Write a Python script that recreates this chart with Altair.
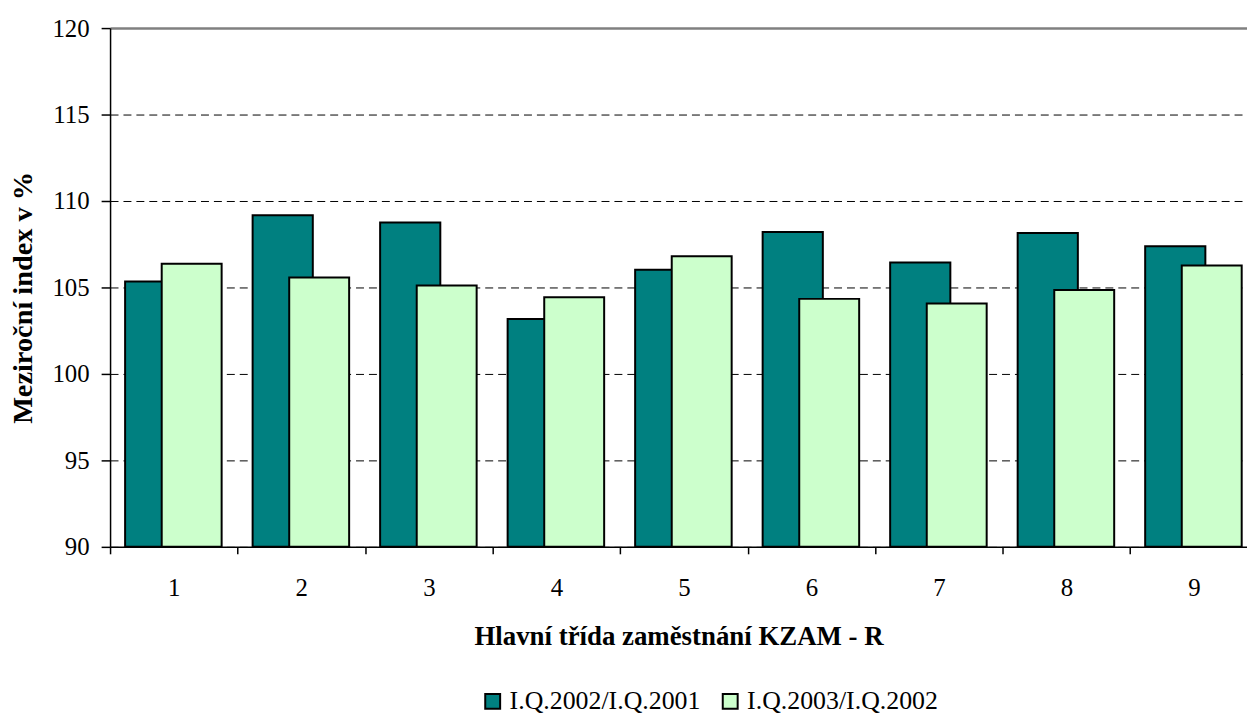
import altair as alt
import pandas as pd

# ---- data ----
categories = [1, 2, 3, 4, 5, 6, 7, 8, 9]
series_names = ["I.Q.2002/I.Q.2001", "I.Q.2003/I.Q.2002"]
index_2002 = [105.35, 109.18, 108.76, 103.17, 106.03, 108.21, 106.44, 108.15, 107.38]
index_2003 = [106.37, 105.57, 105.12, 104.43, 106.81, 104.34, 104.07, 104.85, 106.27]
y_ticks = [90, 95, 100, 105, 110, 115, 120]
x_boundaries = [0.5, 1.5, 2.5, 3.5, 4.5, 5.5, 6.5, 7.5, 8.5]
colors = ["#008080", "#CCFFCC"]

df = pd.DataFrame({
    "kat": categories + categories,
    "serie": [series_names[0]] * len(categories) + [series_names[1]] * len(categories),
    "hodnota": index_2002 + index_2003,
})

FONT = "'Times New Roman', 'Liberation Serif', Times, 'DejaVu Serif', serif"
W, H = 1144, 522
cat_px = 128.3

x_scale = alt.Scale(domain=[0.5, 0.5 + W / cat_px], nice=False, zero=False)
y_scale = alt.Scale(domain=[90, 120], nice=False, zero=False)

is_top = "datum.value === 120"

x_axis = alt.Axis(
    values=x_boundaries,
    labelExpr="format(datum.value + 0.5, 'd')",
    labelOffset=cat_px / 2,
    labelFlush=False,
    labelOverlap=False,
    labelFont=FONT, labelFontSize=25, labelColor="black", labelPadding=22,
    tickSize=7, tickColor="black", tickWidth=1.5,
    domainColor="black", domainWidth=1.5,
    grid=False,
    title="Hlavní třída zaměstnání KZAM - R",
    titleFont=FONT, titleFontSize=27, titleFontWeight="bold", titleColor="black",
    titleBaseline="alphabetic", titleY=98.7,
)

y_axis = alt.Axis(
    values=y_ticks,
    labelFont=FONT, labelFontSize=25, labelColor="black", labelPadding=12,
    tickSize=9, tickColor="black", tickWidth=1.5,
    domainColor="black", domainWidth=1.5,
    grid=True,
    gridColor={"condition": {"test": is_top, "value": "#808080"}, "value": "black"},
    gridDash={"condition": {"test": is_top, "value": []}, "value": [8, 5]},
    gridWidth={"condition": {"test": is_top, "value": 2.5}, "value": 1},
    title="Meziroční index v %",
    titleFont=FONT, titleFontSize=28.5, titleFontWeight="bold", titleColor="black",
    titleAngle=270, titleAlign="center", titleBaseline="alphabetic",
    titleX=-78.7, titleY=271,
)

color = alt.Color(
    "serie:N",
    scale=alt.Scale(domain=series_names, range=colors),
    legend=alt.Legend(
        title=None, orient="none", direction="horizontal",
        legendX=372, legendY=664.5, padding=0,
        symbolType="square", symbolSize=225,
        symbolStrokeColor="black", symbolStrokeWidth=2,
        labelFont=FONT, labelFontSize=26, labelColor="black",
        labelOffset=4, columnPadding=16, labelLimit=400,
    ),
)

base = alt.Chart(df)

dark = base.transform_filter(
    alt.datum.serie == series_names[0]
).transform_calculate(
    x0="datum.kat - 0.382", x1="datum.kat + 0.09"
).mark_bar(stroke="black", strokeWidth=2).encode(
    x=alt.X("x0:Q", scale=x_scale, axis=x_axis),
    x2="x1:Q",
    y=alt.Y("hodnota:Q", scale=y_scale, axis=y_axis),
    y2=alt.datum(90),
    color=color,
)

light = base.transform_filter(
    alt.datum.serie == series_names[1]
).transform_calculate(
    x0="datum.kat - 0.095", x1="datum.kat + 0.375"
).mark_bar(stroke="black", strokeWidth=2).encode(
    x=alt.X("x0:Q", scale=x_scale, axis=x_axis),
    x2="x1:Q",
    y=alt.Y("hodnota:Q", scale=y_scale, axis=y_axis),
    y2=alt.datum(90),
    color=color,
)

chart = alt.layer(dark, light).properties(
    width=W, height=H,
    autosize=alt.AutoSizeParams(type="none"),
    padding={"left": 102.7, "top": 18, "right": 0, "bottom": 168},
    background="white",
).configure_view(stroke=None)

chart.save("out.html", embed_options={"renderer": "svg", "actions": False})
